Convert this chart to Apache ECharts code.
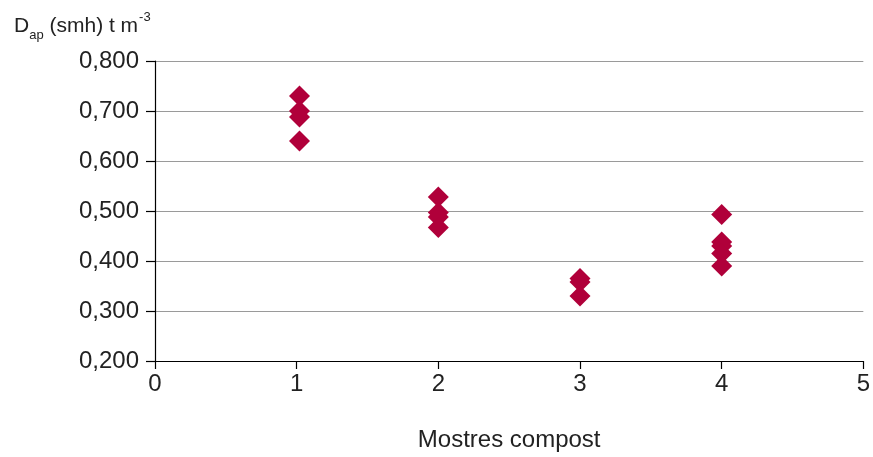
<!DOCTYPE html>
<html><head><meta charset="utf-8">
<script src="https://cdn.jsdelivr.net/npm/echarts@6/dist/echarts.min.js"></script>
<style>html,body{margin:0;padding:0;background:#fff}#c{width:873px;height:457px}</style>
</head><body><div id="c"></div>
<script>
const sampleX = [1.02,1.02,1.02,1.02, 2,2,2,2, 3,3,3, 4,4,4,4,4];
const density = [0.730,0.700,0.688,0.640, 0.528,0.497,0.488,0.467, 0.365,0.358,0.330, 0.493,0.438,0.430,0.415,0.390];
const xName = 'Mostres compost';
const font = 'Liberation Sans';
const chart = echarts.init(document.getElementById('c'));
chart.setOption({
  animation:false,
  textStyle:{fontFamily:font},
  title:{
    left:9, top:6,
    text:'{a|D}{b|ap}{a| (smh) t m}{c|-3}',
    textStyle:{fontWeight:'normal',rich:{
      a:{fontSize:21,color:'#222',fontFamily:font,fontWeight:'normal',verticalAlign:'bottom',lineHeight:26},
      b:{fontSize:13,color:'#222',fontFamily:font,fontWeight:'normal',verticalAlign:'bottom',lineHeight:16,padding:[0,0,-5,0]},
      c:{fontSize:13,color:'#222',fontFamily:font,fontWeight:'normal',verticalAlign:'top',lineHeight:26,padding:[0,0,12,1]}
    }}
  },
  grid:{left:155,right:7,top:61,bottom:91,containLabel:false},
  xAxis:{type:'value',min:0,max:5,interval:1,
    name:xName,nameLocation:'middle',nameGap:67,
    nameTextStyle:{fontSize:24,color:'#222',fontFamily:font},
    axisLine:{lineStyle:{color:'#000',width:1.2}},
    axisTick:{show:true,length:8,lineStyle:{color:'#000',width:1.2}},
    axisLabel:{fontSize:24,color:'#222',margin:11,fontFamily:font},
    splitLine:{show:false}},
  yAxis:{type:'value',min:0.2,max:0.8,interval:0.1,
    axisLine:{show:true,lineStyle:{color:'#000',width:1.2}},
    axisTick:{show:true,length:9,lineStyle:{color:'#000',width:1.2}},
    axisLabel:{fontSize:24,color:'#222',margin:16,fontFamily:font,
      formatter:v=>v.toFixed(3).replace('.',',')},
    splitLine:{show:true,lineStyle:{color:'#9a9a9a',width:1.2}}},
  series:[{type:'scatter',symbol:'diamond',symbolSize:21,
    itemStyle:{color:'#b0003a',opacity:1},
    data:sampleX.map((x,i)=>[x,density[i]])}]
});
</script></body></html>
